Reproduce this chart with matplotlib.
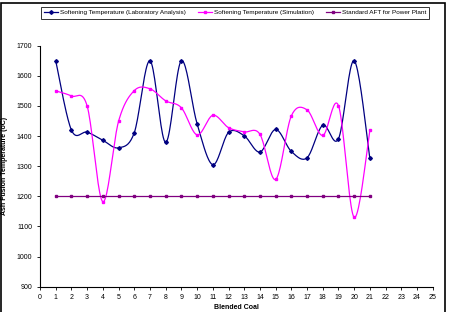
import numpy as np
import matplotlib
matplotlib.use("Agg")
import matplotlib.pyplot as plt
from matplotlib.patches import Rectangle

plt.rcParams['font.family'] = ['Liberation Sans', 'DejaVu Sans']

coal = list(range(1, 22))
lab = [1650, 1420, 1413, 1386, 1361, 1411, 1650, 1379, 1650, 1441, 1305,
       1412, 1401, 1347, 1422, 1349, 1328, 1436, 1391, 1650, 1326]
sim = [1550, 1533, 1500, 1182, 1449, 1551, 1557, 1517, 1494, 1404, 1469,
       1428, 1414, 1406, 1256, 1467, 1487, 1402, 1501, 1130, 1420]
standard = [1200] * 21
xticks = list(range(0, 26))
yticks = list(range(900, 1701, 100))


def smooth(x, y, n=20):
    # excel-like smoothed line (catmull-rom through the points)
    x = np.asarray(x, float)
    y = np.asarray(y, float)
    px = np.concatenate([[x[0]], x, [x[-1]]])
    py = np.concatenate([[y[0]], y, [y[-1]]])
    xs, ys = [], []
    t = np.linspace(0, 1, n, endpoint=False)
    for i in range(1, len(px) - 2):
        p0, p1, p2, p3 = (np.array([px[j], py[j]]) for j in range(i - 1, i + 3))
        c1 = p1 + (p2 - p0) / 6
        c2 = p2 - (p3 - p1) / 6
        b = ((1 - t) ** 3)[:, None] * p1 + (3 * (1 - t) ** 2 * t)[:, None] * c1 \
            + (3 * (1 - t) * t ** 2)[:, None] * c2 + (t ** 3)[:, None] * p2
        xs.extend(b[:, 0])
        ys.extend(b[:, 1])
    xs.append(x[-1])
    ys.append(y[-1])
    return xs, ys


fig = plt.figure(figsize=(4.5, 3.12), dpi=100)
ax = fig.add_axes([0.0889, 0.0811, 0.8727, 0.7724])

navy = '#000080'
mag = '#FF00FF'
purp = '#800080'

sx, sy = smooth(coal, lab)
ax.plot(sx, sy, color=navy, lw=0.9)
ax.plot(coal, lab, 'D', color=navy, ms=1.9, ls='none')
sx, sy = smooth(coal, sim)
ax.plot(sx, sy, color=mag, lw=0.9)
ax.plot(coal, sim, 's', color=mag, ms=2.0, ls='none')
ax.plot(coal, standard, color=purp, lw=0.9, marker='s', ms=1.9)

h1, = ax.plot([], [], color=navy, lw=0.9, marker='D', ms=1.9)
h2, = ax.plot([], [], color=mag, lw=0.9, marker='s', ms=2.0)
h3, = ax.plot([], [], color=purp, lw=0.9, marker='s', ms=1.9)

ax.set_xlim(0, 25)
ax.set_ylim(900, 1700)
ax.set_xticks(xticks)
ax.set_yticks(yticks)
ax.tick_params(labelsize=5, length=2.5, width=0.6, direction='out', pad=3)
for s in ['top', 'right']:
    ax.spines[s].set_visible(False)
for s in ['left', 'bottom']:
    ax.spines[s].set_linewidth(0.8)
ax.set_xlabel('Blended Coal', fontsize=5, fontweight='bold', labelpad=2)
ax.set_ylabel('Ash Fusion Temperature (oC)', fontsize=5, fontweight='bold', labelpad=6)

leg = fig.legend([h1, h2, h3],
                 ['Softening Temperature (Laboratory Analysis)',
                  'Softening Temperature (Simulation)',
                  'Standard AFT for Power Plant'],
                 loc='center', bbox_to_anchor=(0.5222, 0.9596), ncol=3,
                 fontsize=4.6, frameon=True, fancybox=False, borderpad=0.5,
                 handlelength=2.2, columnspacing=1.9, handletextpad=0.3)
leg.get_frame().set_edgecolor('black')
leg.get_frame().set_linewidth(0.7)

fig.patches.append(Rectangle((0.003, -0.01), 0.985, 1.0, transform=fig.transFigure,
                             fill=False, edgecolor='black', lw=1.2))

fig.savefig('out.png', dpi=100)
